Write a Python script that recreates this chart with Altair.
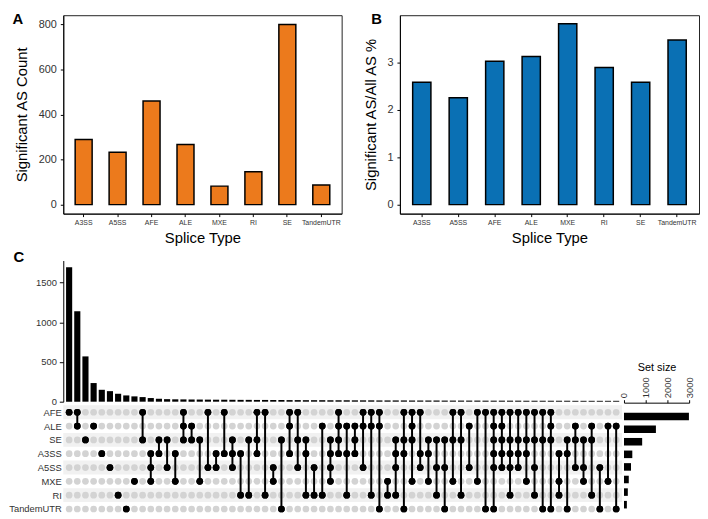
import altair as alt
import pandas as pd

# ---------------- data ----------------
splice_types = ["A3SS", "A5SS", "AFE", "ALE", "MXE", "RI", "SE", "TandemUTR"]
sig_count = [289, 232, 460, 267, 82, 146, 799, 87]
sig_pct = [2.58, 2.25, 3.02, 3.12, 3.81, 2.89, 2.58, 3.47]

set_names = ["AFE", "ALE", "SE", "A3SS", "A5SS", "MXE", "RI", "TandemUTR"]
set_size = [2990, 1470, 837, 383, 323, 220, 176, 132]

intersection_sets = [
    ["AFE"], ["AFE", "ALE"], ["SE"], ["ALE"], ["A3SS"], ["A5SS"], ["RI"], ["TandemUTR"], ["MXE"],
    ["AFE", "SE"], ["A3SS", "A5SS", "MXE"], ["SE", "A3SS"], ["SE", "A5SS"], ["A3SS", "MXE"],
    ["AFE", "ALE", "SE"], ["ALE", "SE"], ["SE", "MXE"], ["AFE", "A5SS"], ["A3SS", "A5SS"],
    ["AFE", "A3SS"], ["SE", "A3SS", "A5SS"], ["A3SS", "RI"], ["SE", "RI"],
    ["AFE", "SE", "A3SS"], ["AFE", "RI"], ["A5SS", "MXE"], ["SE", "TandemUTR"],
    ["AFE", "ALE", "A3SS"], ["AFE", "SE", "A5SS"], ["SE", "A3SS", "RI"], ["A5SS", "RI"],
    ["ALE", "RI"], ["SE", "A3SS", "A5SS", "MXE"], ["AFE", "ALE", "SE", "A3SS"],
    ["ALE", "A3SS", "RI"], ["ALE", "SE", "A3SS"], ["AFE", "ALE", "A5SS"], ["AFE", "ALE", "RI"],
    ["AFE", "ALE", "TandemUTR"], ["MXE", "RI"], ["SE", "A3SS", "A5SS", "RI"],
    ["AFE", "SE", "A3SS", "TandemUTR"], ["AFE", "ALE", "SE", "MXE"], ["AFE", "A3SS", "A5SS"],
    ["SE", "A3SS", "MXE"], ["SE", "A5SS", "RI"], ["SE", "A5SS", "TandemUTR"],
    ["AFE", "SE", "MXE"], ["AFE", "SE", "RI"], ["ALE", "A5SS"], ["AFE", "MXE"],
    ["AFE", "TandemUTR"], ["AFE", "ALE", "SE", "A3SS", "A5SS", "TandemUTR"],
    ["AFE", "ALE", "SE", "A3SS", "A5SS"], ["AFE", "SE", "A3SS", "A5SS", "RI"],
    ["AFE", "SE", "A3SS", "A5SS"], ["AFE", "SE", "A3SS", "MXE"], ["AFE", "SE", "A5SS", "RI"],
    ["AFE", "SE", "TandemUTR"], ["AFE", "ALE", "SE", "TandemUTR"],
    ["A3SS", "MXE", "RI"], ["SE", "A3SS", "TandemUTR"], ["ALE", "SE", "A5SS"],
    ["SE", "A5SS", "MXE"], ["ALE", "SE", "RI"], ["A5SS", "TandemUTR"], ["ALE", "MXE"],
    ["ALE", "TandemUTR"],
]
intersection_size = [
    1696, 1141, 571, 235, 150, 133, 100, 79, 67, 58, 46, 37,
    32, 30, 29, 28, 27, 26, 25, 25, 24, 23,
    23, 22, 22, 21, 21, 20, 20, 19, 19, 19,
    18, 18, 18, 17, 17, 17, 16, 16, 16, 16,
    15, 15, 15, 15, 14, 14, 14, 14, 14, 13,
    13, 13, 13, 13, 12, 12, 12, 12, 12, 12,
    11, 11, 11, 11, 11, 11,
]

# ---------------- tables ----------------
top_df = pd.DataFrame({"type": splice_types, "count": sig_count, "pct": sig_pct})
n_inter = len(intersection_size)
inter_df = pd.DataFrame({"idx": list(range(1, n_inter + 1)), "size": intersection_size})

mat_rows, line_rows = [], []
for i, members in enumerate(intersection_sets, 1):
    rows_on = []
    for r, s in enumerate(set_names):
        on = s in members
        mat_rows.append({"idx": i, "row": r, "on": "on" if on else "off"})
        if on:
            rows_on.append(r)
    if len(rows_on) > 1:
        line_rows.append({"idx": i, "r1": min(rows_on), "r2": max(rows_on)})
mat_df = pd.DataFrame(mat_rows)
line_df = pd.DataFrame(line_rows)
stripe_df = pd.DataFrame({"row": [r for r in range(len(set_names)) if r % 2 == 0]})
size_df = pd.DataFrame({"set": set_names, "row": list(range(len(set_names))), "size": set_size})

ORANGE = "#EC7A1C"
BLUE = "#0A70B4"
FONT = "Liberation Sans"
LBL = "#333333"

# ---------------- panels A and B ----------------
frame = alt.ViewBackground(stroke="#222222", strokeWidth=1)
xa = dict(labelAngle=0, labelFontSize=7, titleFontSize=15, tickSize=3, labelPadding=2,
          titlePadding=5, labelColor=LBL)
ya = dict(labelFontSize=11, titleFontSize=15, tickSize=3, labelPadding=4, titlePadding=9,
          labelColor=LBL)
ttl = dict(anchor="start", frame="bounds", fontSize=15, fontWeight="bold", offset=-12)

panelA = alt.Chart(top_df).mark_bar(color=ORANGE, stroke="black", strokeWidth=1.5).encode(
    x=alt.X("type:N", sort=splice_types, title="Splice Type",
            scale=alt.Scale(paddingInner=0.5, paddingOuter=0.35), axis=alt.Axis(**xa)),
    y=alt.Y("count:Q", title="Significant AS Count",
            scale=alt.Scale(domain=[-40, 840], nice=False, zero=False),
            axis=alt.Axis(values=[0, 200, 400, 600, 800], **ya)),
).properties(width=282, height=201, view=frame,
             title=alt.TitleParams("A", dx=-2, **ttl))

panelB = alt.Chart(top_df).mark_bar(color=BLUE, stroke="black", strokeWidth=1.5).encode(
    x=alt.X("type:N", sort=splice_types, title="Splice Type",
            scale=alt.Scale(paddingInner=0.5, paddingOuter=0.35), axis=alt.Axis(**xa)),
    y=alt.Y("pct:Q", title="Significant AS/All AS %",
            scale=alt.Scale(domain=[-0.19, 3.99], nice=False, zero=False),
            axis=alt.Axis(values=[0, 1, 2, 3], **ya)),
).properties(width=303, height=201, view=frame,
             title=alt.TitleParams("B", dx=8, **ttl))

top = alt.hconcat(panelA, panelB, spacing=20)

# ---------------- panel C (one layered view) ----------------
CW, CH = 634, 256
xband = alt.Scale(type="band", domain=list(range(1, n_inter + 1)), range=[1, 565],
                  paddingInner=0.25, paddingOuter=0.22)

cbars = alt.Chart(inter_df).mark_bar(color="black").encode(
    x=alt.X("idx:O", scale=xband, axis=None),
    y=alt.Y("size:Q", scale=alt.Scale(domain=[0, 1780], range=[143, 0], nice=False),
            axis=alt.Axis(orient="left", values=[0, 500, 1000, 1500], format="d", title=None,
                          labelFontSize=9.5, tickSize=4, labelPadding=3, labelColor=LBL,
                          grid=False)),
)

label_expr = "[" + ",".join("'" + s + "'" for s in set_names) + "][datum.value]"
yrow_scale = alt.Scale(domain=[-0.5, len(set_names) - 0.5], range=[146.7, 258.7],
                       nice=False, zero=False)
yrow_axis = alt.Axis(orient="left", values=list(range(len(set_names))), labelExpr=label_expr,
                     title=None, ticks=False, domain=False, grid=False, labelFontSize=9.5,
                     labelPadding=2, labelColor=LBL)


def yrow(field):
    return alt.Y(field + ":Q", scale=yrow_scale, axis=yrow_axis)


stripes = alt.Chart(stripe_df).transform_calculate(
    lo="datum.row - 0.5", hi="datum.row + 0.5"
).mark_rect(color="#F1F1F1").encode(
    y=yrow("lo"), y2="hi:Q", x=alt.value(0), x2=alt.value(566)
)
dots_all = alt.Chart(mat_df).mark_circle(size=46, opacity=1).encode(
    x=alt.X("idx:O", scale=xband, axis=None),
    y=yrow("row"),
    color=alt.Color("on:N", scale=alt.Scale(domain=["off", "on"], range=["#D3D3D3", "black"]),
                    legend=None),
)
lines = alt.Chart(line_df).mark_rule(color="black", strokeWidth=2).encode(
    x=alt.X("idx:O", scale=xband, axis=None),
    y=yrow("r1"), y2="r2:Q",
)
dots_on = alt.Chart(mat_df).transform_filter("datum.on == 'on'").mark_circle(
    size=46, opacity=1, color="black").encode(
    x=alt.X("idx:O", scale=xband, axis=None),
    y=yrow("row"),
)
matrix = alt.layer(stripes, dots_all, lines, dots_on)

setsize = alt.Chart(size_df).transform_calculate(
    lo="datum.row - 0.3", hi="datum.row + 0.3"
).mark_bar(color="black", orient="horizontal").encode(
    y=alt.Y("lo:Q", scale=yrow_scale, axis=None),
    y2="hi:Q",
    x=alt.X("size:Q", scale=alt.Scale(domain=[0, 3000], range=[568, 634], nice=False),
            axis=alt.Axis(orient="top", offset=-144, values=[0, 1000, 2000, 3000],
                          format="d", title="Set size", labelAngle=270, labelAlign="left",
                          labelBaseline="middle", labelFontSize=9.5, tickSize=3,
                          labelPadding=2, titleFontSize=11, titlePadding=4,
                          labelColor=LBL, grid=False)),
)

panelC = alt.layer(cbars, matrix, setsize).resolve_scale(
    x="independent", y="independent"
).properties(width=CW, height=CH,
             title=alt.TitleParams("C", anchor="start", frame="bounds", fontSize=15,
                                   fontWeight="bold", offset=-4, dx=5))

chart = alt.vconcat(top, panelC, spacing=3.5).properties(
    padding=0
).configure_view(strokeWidth=0).configure_axis(
    labelFont=FONT, titleFont=FONT, titleFontWeight="normal", grid=False,
    domainColor="black", tickColor="black", titleColor="black"
).configure_title(font=FONT, color="black")

chart.save("out.html", embed_options={"renderer": "svg", "actions": False})
